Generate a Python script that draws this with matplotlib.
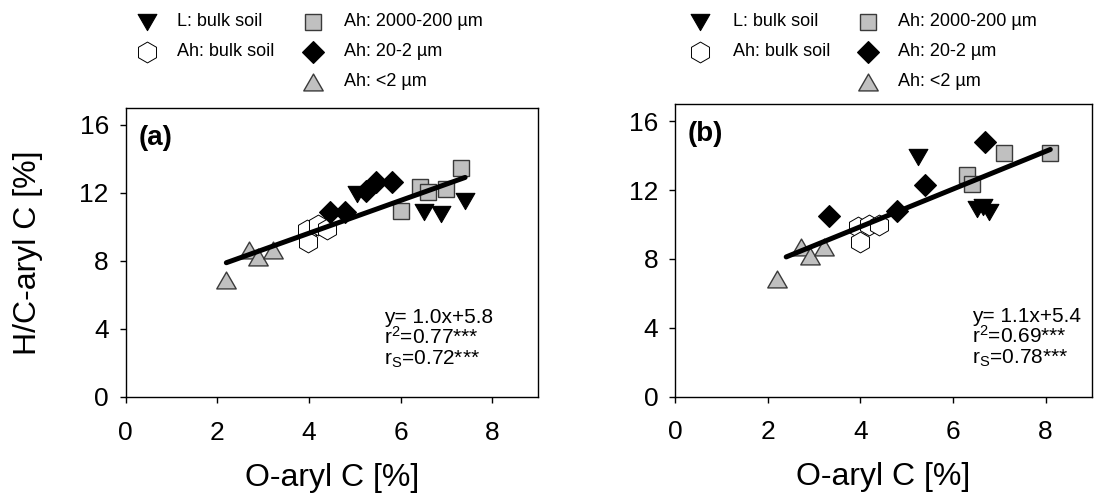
import numpy as np
import matplotlib
matplotlib.use("Agg")
import matplotlib.pyplot as plt
from matplotlib.path import Path

plt.rcParams['font.family'] = ['Liberation Sans', 'DejaVu Sans']
plt.rcParams['mathtext.fontset'] = 'custom'
plt.rcParams['mathtext.rm'] = 'Liberation Sans'
plt.rcParams['mathtext.it'] = 'Liberation Sans:italic'
plt.rcParams['mathtext.bf'] = 'Liberation Sans:bold'

# ---------------- data ----------------
series_labels = ["L: bulk soil", "Ah: bulk soil", "Ah: 2000-200 \u00b5m",
                 "Ah: 20-2 \u00b5m", "Ah: <2 \u00b5m"]

# panel (a)
a_L_x = [5.04, 6.52, 6.89, 7.41]
a_L_y = [11.95, 10.87, 10.77, 11.55]
a_bulk_x = [3.95, 3.98, 4.20, 4.40]
a_bulk_y = [9.80, 9.11, 10.09, 9.90]
a_coarse_x = [6.00, 6.42, 6.60, 7.00, 7.31]
a_coarse_y = [10.97, 12.34, 12.05, 12.24, 13.47]
a_fine_x = [4.46, 4.78, 5.25, 5.47, 5.82]
a_fine_y = [10.87, 10.87, 12.14, 12.63, 12.63]
a_clay_x = [2.19, 2.69, 2.89, 3.21]
a_clay_y = [6.86, 8.66, 8.23, 8.66]
a_fit_x = [2.2, 7.41]
a_fit_coef = [0.963, 5.78]
a_stats = ["y= 1.0x+5.8", "r$^{2}$=0.77***", "r$_{\\rm S}$=0.72***"]

# panel (b)
b_L_x = [5.25, 6.52, 6.65, 6.77]
b_L_y = [13.91, 10.92, 11.00, 10.72]
b_bulk_x = [3.94, 4.00, 4.19, 4.41]
b_bulk_y = [9.86, 8.99, 9.95, 9.95]
b_coarse_x = [6.31, 6.40, 7.10, 8.10]
b_coarse_y = [12.85, 12.37, 14.15, 14.15]
b_fine_x = [3.32, 4.80, 5.40, 6.70]
b_fine_y = [10.48, 10.77, 12.31, 14.78]
b_clay_x = [2.21, 2.71, 2.92, 3.21]
b_clay_y = [6.86, 8.70, 8.17, 8.70]
b_fit_x = [2.4, 8.1]
b_fit_coef = [1.095, 5.49]
b_stats = ["y= 1.1x+5.4", "r$^{2}$=0.69***", "r$_{\\rm S}$=0.78***"]

x_ticks = [0, 2, 4, 6, 8]
y_ticks = [0, 4, 8, 12, 16]

# ---------------- styles ----------------
tri_up = Path([(-1, -0.866), (1, -0.866), (0, 0.866), (-1, -0.866)],
              [Path.MOVETO, Path.LINETO, Path.LINETO, Path.CLOSEPOLY])
tri_dn = Path([(-1, 0.866), (1, 0.866), (0, -0.866), (-1, 0.866)],
              [Path.MOVETO, Path.LINETO, Path.LINETO, Path.CLOSEPOLY])
GRAY = '#c0c0c0'
EDGE = '#3a3a3a'
styles = [
    dict(marker=tri_dn, ms=13.5, mfc='black', mec='black', mew=0.8),
    dict(marker='h', ms=15, mfc='white', mec='black', mew=0.7),
    dict(marker='s', ms=11.5, mfc=GRAY, mec=EDGE, mew=1.0),
    dict(marker='D', ms=11, mfc='black', mec='black', mew=0.8),
    dict(marker=tri_up, ms=14, mfc=GRAY, mec=EDGE, mew=1.0),
]

W, H = 1096, 493
fig = plt.figure(figsize=(W / 100, H / 100), dpi=100)

def fbox(l, r, t, b):
    return [l / W, 1 - b / H, (r - l) / W, (b - t) / H]

ax_a = fig.add_axes(fbox(125.5, 538, 108, 397))
ax_b = fig.add_axes(fbox(675, 1092, 104, 396.7))

panels = [
    (ax_a, [(a_L_x, a_L_y), (a_bulk_x, a_bulk_y), (a_coarse_x, a_coarse_y),
            (a_fine_x, a_fine_y), (a_clay_x, a_clay_y)],
     a_fit_x, a_fit_coef, a_stats, "(a)", 5.65,
     [(147, 177), (313, 344)]),
    (ax_b, [(b_L_x, b_L_y), (b_bulk_x, b_bulk_y), (b_coarse_x, b_coarse_y),
            (b_fine_x, b_fine_y), (b_clay_x, b_clay_y)],
     b_fit_x, b_fit_coef, b_stats, "(b)", 6.41,
     [(700, 733), (868, 898)]),
]

legend_rows_px = [21.7, 51.7, 81.7]
legend_layout = [(0, 0), (0, 1), (1, 0), (1, 1), (1, 2)]  # (column, row)

for ax, groups, fx, fc, stats, tag, sx, lcols in panels:
    for (gx, gy), st in zip(groups, styles):
        ax.plot(gx, gy, ls='none', zorder=3, **st)
    xx = np.array(fx)
    ax.plot(xx, np.polyval(fc, xx), color='black', lw=3.6,
            solid_capstyle='round', zorder=4)
    ax.set_xlim(0, 9)
    ax.set_ylim(0, 17)
    ax.set_xticks(x_ticks)
    ax.set_yticks(y_ticks)
    ax.tick_params(direction='out', length=4, width=1, labelsize=19)
    ax.tick_params(axis='y', pad=8)
    ax.tick_params(axis='x', pad=13)
    for sp in ax.spines.values():
        sp.set_linewidth(1.0)
    ax.set_xlabel("O-aryl C [%]", fontsize=23, labelpad=13)
    ax.text(0.28, 15.25, tag, fontsize=20, fontweight='bold',
            va='center', ha='left')
    for i, s in enumerate(stats):
        ax.text(sx, 4.35 - i * 1.22, s, fontsize=15, ha='left',
                va='baseline')
    # legend drawn manually above the panel
    for (col, row), st, lab in zip(legend_layout, styles, series_labels):
        mx, tx = lcols[col]
        yy = 1 - legend_rows_px[row] / H
        fig.add_artist(plt.Line2D([mx / W], [yy], transform=fig.transFigure,
                                  ls='none', **st))
        fig.text(tx / W, yy, lab, fontsize=13, va='center', ha='left')

ax_a.set_ylabel("H/C-aryl C [%]", fontsize=23, labelpad=26)

fig.savefig("out.png", dpi=100)
